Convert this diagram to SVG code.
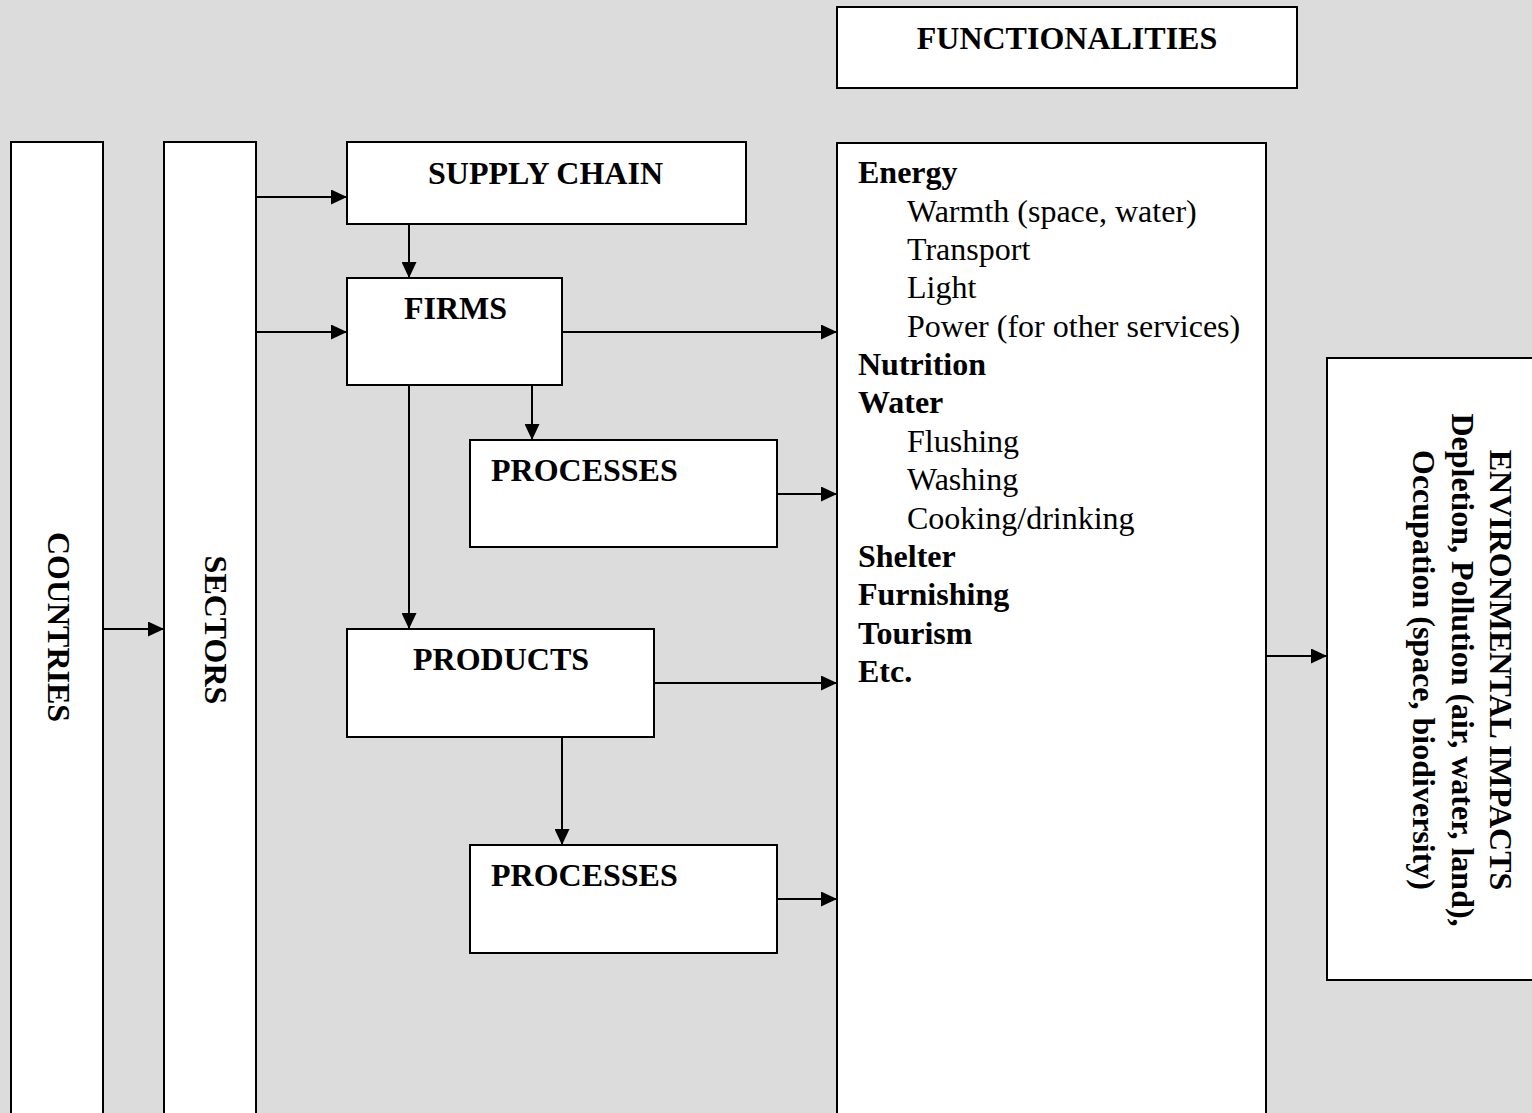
<svg xmlns="http://www.w3.org/2000/svg" width="1532" height="1113" viewBox="0 0 1532 1113">
<style>
.box{fill:#fff;stroke:#000;stroke-width:2}
.conn{stroke:#000;stroke-width:2;fill:none}
.b{font-family:"Liberation Serif","Times New Roman",serif;font-weight:bold;font-size:32px;fill:#000}
.r{font-family:"Liberation Serif","Times New Roman",serif;font-size:32px;fill:#000}
</style>
<defs>
<marker id="ah" viewBox="0 0 16 15" refX="16" refY="7.5" markerWidth="16" markerHeight="15" markerUnits="userSpaceOnUse" orient="auto">
<path d="M0,0 L16,7.5 L0,15 Z" fill="#000"/>
</marker>
</defs>
<rect x="0" y="0" width="1532" height="1113" fill="#dcdcdc"/>
<g id="countries">
<rect class="box" x="11" y="142" width="92" height="1000"/>
<text class="b" text-anchor="middle" transform="translate(48,627) rotate(90)">COUNTRIES</text>
</g>
<g id="sectors">
<rect class="box" x="164" y="142" width="92" height="1000"/>
<text class="b" text-anchor="middle" transform="translate(205,630) rotate(90)">SECTORS</text>
</g>
<g id="supply-chain">
<rect class="box" x="347" y="142" width="399" height="82"/>
<text class="b" x="428" y="184">SUPPLY CHAIN</text>
</g>
<g id="firms">
<rect class="box" x="347" y="278" width="215" height="107"/>
<text class="b" x="404" y="319">FIRMS</text>
</g>
<g id="processes1">
<rect class="box" x="470" y="440" width="307" height="107"/>
<text class="b" x="491" y="481">PROCESSES</text>
</g>
<g id="products">
<rect class="box" x="347" y="629" width="307" height="108"/>
<text class="b" x="413" y="670">PRODUCTS</text>
</g>
<g id="processes2">
<rect class="box" x="470" y="845" width="307" height="108"/>
<text class="b" x="491" y="886">PROCESSES</text>
</g>
<g id="functionalities-header">
<rect class="box" x="837" y="7" width="460" height="81"/>
<text class="b" x="1067" y="49" text-anchor="middle">FUNCTIONALITIES</text>
</g>
<g id="functionalities">
<rect class="box" x="837" y="143" width="429" height="1000"/>
<text class="b" x="858" y="183.3">Energy</text>
<text class="r" x="907" y="221.7">Warmth (space, water)</text>
<text class="r" x="907" y="260">Transport</text>
<text class="r" x="907" y="298.4">Light</text>
<text class="r" x="907" y="336.7">Power (for other services)</text>
<text class="b" x="858" y="375">Nutrition</text>
<text class="b" x="858" y="413.4">Water</text>
<text class="r" x="907" y="451.8">Flushing</text>
<text class="r" x="907" y="490.1">Washing</text>
<text class="r" x="907" y="528.5">Cooking/drinking</text>
<text class="b" x="858" y="566.8">Shelter</text>
<text class="b" x="858" y="605.2">Furnishing</text>
<text class="b" x="858" y="643.5">Tourism</text>
<text class="b" x="858" y="681.9">Etc.</text>
</g>
<g id="environmental-impacts">
<rect class="box" x="1327" y="358" width="230" height="622"/>
<g class="b" text-anchor="middle">
<text transform="translate(1490,670) rotate(90)">ENVIRONMENTAL IMPACTS</text>
<text transform="translate(1451.5,670) rotate(90)">Depletion, Pollution (air, water, land),</text>
<text transform="translate(1413,670) rotate(90)">Occupation (space, biodiversity)</text>
</g>
</g>
<g id="connectors" class="conn">
<line x1="103" y1="629" x2="164" y2="629" marker-end="url(#ah)"/>
<line x1="256" y1="197" x2="347" y2="197" marker-end="url(#ah)"/>
<line x1="256" y1="332" x2="347" y2="332" marker-end="url(#ah)"/>
<line x1="409" y1="224" x2="409" y2="278" marker-end="url(#ah)"/>
<line x1="562" y1="332" x2="837" y2="332" marker-end="url(#ah)"/>
<line x1="532" y1="385" x2="532" y2="440" marker-end="url(#ah)"/>
<line x1="409" y1="385" x2="409" y2="629" marker-end="url(#ah)"/>
<line x1="777" y1="494" x2="837" y2="494" marker-end="url(#ah)"/>
<line x1="654" y1="683" x2="837" y2="683" marker-end="url(#ah)"/>
<line x1="562" y1="737" x2="562" y2="845" marker-end="url(#ah)"/>
<line x1="777" y1="899" x2="837" y2="899" marker-end="url(#ah)"/>
<line x1="1266" y1="656" x2="1327" y2="656" marker-end="url(#ah)"/>
</g>
</svg>
